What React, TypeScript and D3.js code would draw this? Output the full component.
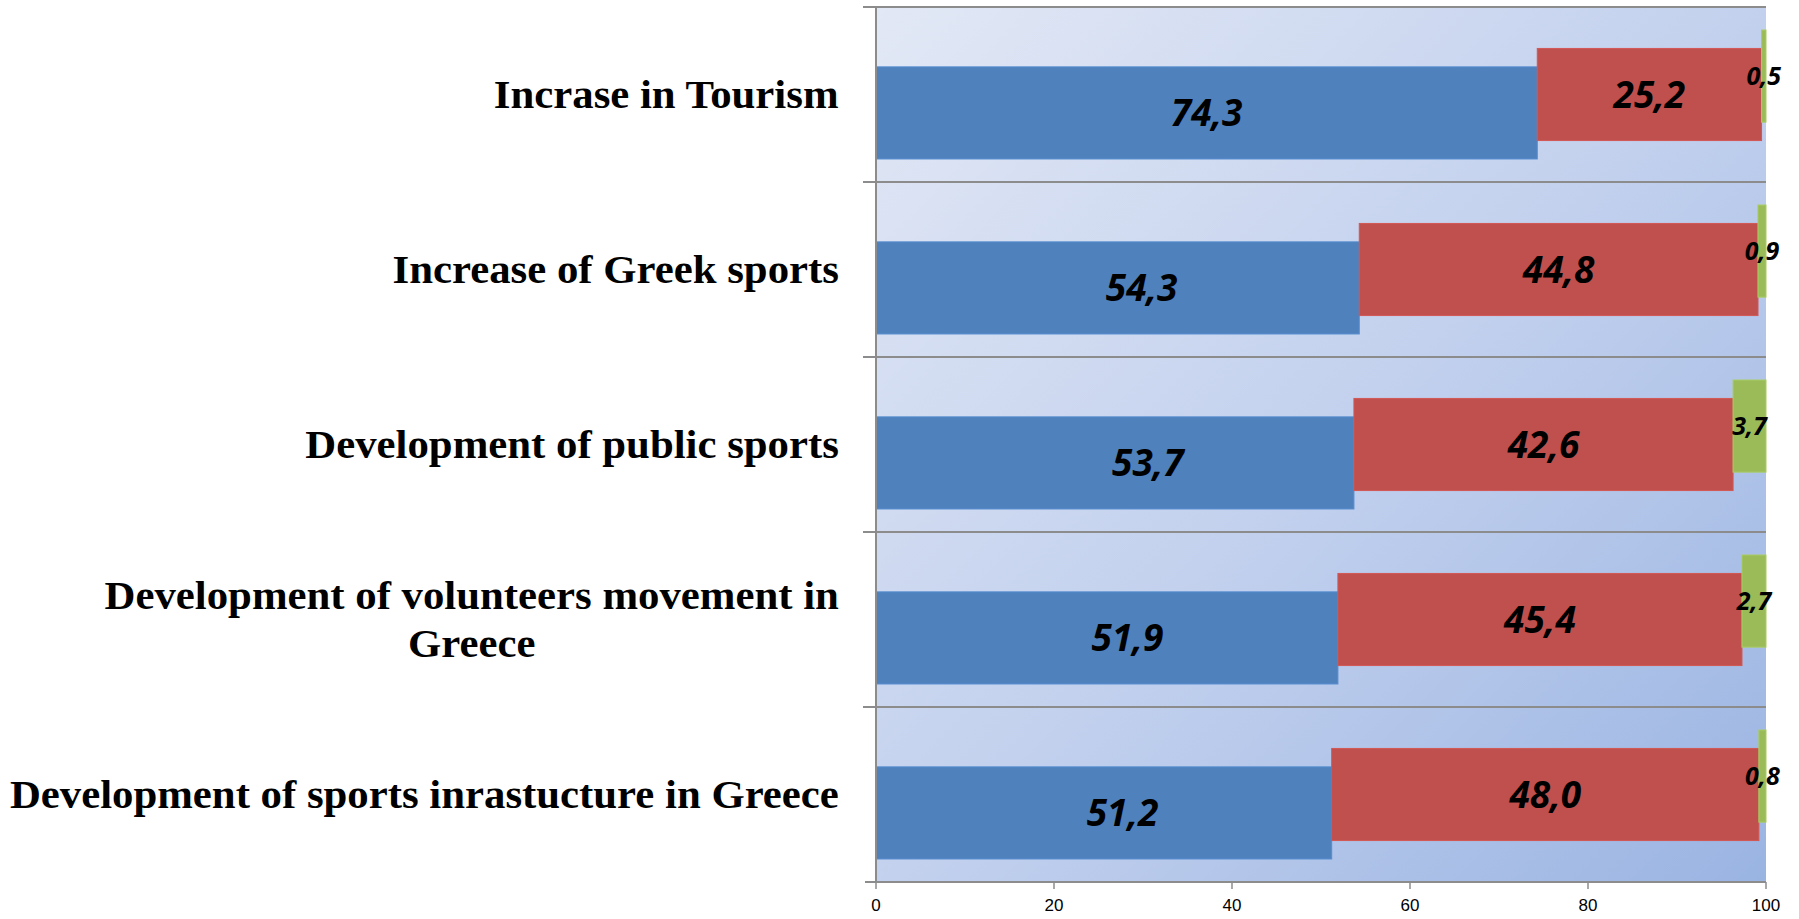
import React, { useMemo } from "react";
import * as d3 from "d3";

const categories = [
  "Incrase in Tourism",
  "Increase of Greek sports",
  "Development of public sports",
  "Development of volunteers movement in Greece",
  "Development of sports inrastucture in Greece",
];
const seriesBlue = [74.3, 54.3, 53.7, 51.9, 51.2];
const seriesRed = [25.2, 44.8, 42.6, 45.4, 48.0];
const seriesGreen = [0.5, 0.9, 3.7, 2.7, 0.8];
const xTicks = [0, 20, 40, 60, 80, 100];

// manual label nudges (in x-axis units) seen in the original for the first series
const blueLabelNudge = [0, 2.7, 3.7, 2.3, 2.1];

const seriesList = [
  { values: seriesBlue, color: "#4f81bd", fontSize: 37, nudge: blueLabelNudge },
  { values: seriesRed, color: "#c0504d", fontSize: 37, nudge: null },
  { values: seriesGreen, color: "#9bbb59", fontSize: 25, nudge: null },
];

const W = 1799;
const H = 919;
const plotLeft = 876;
const plotRight = 1766;
const plotTop = 7;
const plotBottom = 882;
const labelRight = 839;
const catFont = "bold 40px 'Liberation Serif'";
const catStretch = 1.07;
const gapRatio = 0.5;
const overlap = 0.8;

function measure(text: string): number {
  const canvas = document.createElement("canvas");
  const ctx = canvas.getContext("2d")!;
  ctx.font = catFont;
  return ctx.measureText(text).width * catStretch;
}

function wrapLines(text: string, maxW: number): string[] {
  const words = text.split(" ");
  const lines: string[] = [];
  let cur = "";
  for (const w of words) {
    const t = cur ? cur + " " + w : w;
    if (measure(t) > maxW && cur) {
      lines.push(cur);
      cur = w;
    } else cur = t;
  }
  if (cur) lines.push(cur);
  return lines;
}

const fmt = (v: number) => v.toFixed(1).replace(".", ",");

export default function App() {
  const x = d3.scaleLinear().domain([0, 100]).range([plotLeft, plotRight]);
  const y = d3
    .scaleBand<string>()
    .domain(categories)
    .range([plotTop, plotBottom])
    .paddingInner(0)
    .paddingOuter(0);
  const bw = y.bandwidth();
  const n = seriesList.length;
  const barH = bw / (gapRatio + 1 + (n - 1) * (1 - overlap));
  const step = barH * (1 - overlap);
  const start = (gapRatio * barH) / 2;

  const wrapped = useMemo(
    () => categories.map((c) => wrapLines(c, 835)),
    []
  );

  const barY = (cat: string, si: number) =>
    (y(cat) as number) + start + (n - 1 - si) * step;

  const gridYs = categories.map((c) => y(c) as number);

  return (
    <svg
      width={W}
      height={H}
      style={{ position: "fixed", left: 0, top: 0, display: "block", background: "#fff" }}
    >
      <defs>
        <linearGradient
          id="bg"
          gradientUnits="userSpaceOnUse"
          x1={plotLeft}
          y1={plotTop}
          x2={plotRight}
          y2={plotBottom}
        >
          <stop offset="0" stopColor="#e2e8f5" />
          <stop offset="0.5" stopColor="#c3d1ee" />
          <stop offset="1" stopColor="#9ab4e2" />
        </linearGradient>
      </defs>
      <rect
        x={plotLeft}
        y={plotTop}
        width={plotRight - plotLeft}
        height={plotBottom - plotTop}
        fill="url(#bg)"
      />
      {gridYs.map((gy, i) => (
        <line
          key={"g" + i}
          x1={plotLeft - 13}
          x2={plotRight}
          y1={gy}
          y2={gy}
          stroke="#8c8c8c"
          strokeWidth={2}
        />
      ))}
      {seriesList.map((s, si) =>
        categories.map((c, ci) => {
          const base = seriesList
            .slice(0, si)
            .reduce((acc, p) => acc + p.values[ci], 0);
          const x0 = x(base);
          const x1 = x(base + s.values[ci]);
          return (
            <rect
              key={`b${si}-${ci}`}
              x={x0}
              y={barY(c, si)}
              width={x1 - x0}
              height={barH}
              fill={s.color}
              stroke={d3.color(s.color)!.brighter(0.25).toString()}
              strokeWidth={1}
            />
          );
        })
      )}
      <line
        x1={plotLeft}
        x2={plotLeft}
        y1={plotTop}
        y2={plotBottom}
        stroke="#8c8c8c"
        strokeWidth={2}
      />
      <line
        x1={plotLeft - 11}
        x2={plotRight}
        y1={plotBottom}
        y2={plotBottom}
        stroke="#8c8c8c"
        strokeWidth={2}
      />
      {xTicks.map((t) => (
        <g key={"t" + t}>
          <line
            x1={x(t)}
            x2={x(t)}
            y1={plotBottom}
            y2={plotBottom + 7}
            stroke="#8c8c8c"
            strokeWidth={1.5}
          />
          <text
            x={x(t)}
            y={911}
            textAnchor="middle"
            fontFamily="'Liberation Sans', Arial, sans-serif"
            fontSize={17}
            fill="#000"
          >
            {t}
          </text>
        </g>
      ))}
      {seriesList.map((s, si) =>
        categories.map((c, ci) => {
          const base = seriesList
            .slice(0, si)
            .reduce((acc, p) => acc + p.values[ci], 0);
          const nudge = s.nudge ? s.nudge[ci] : 0;
          const cx = x(base + s.values[ci] / 2 + nudge);
          const cy = barY(c, si) + barH / 2;
          return (
            <text
              key={`l${si}-${ci}`}
              x={cx}
              y={cy + s.fontSize * 0.36}
              textAnchor="middle"
              fontFamily="'Open Sans', 'Liberation Sans', sans-serif"
              fontWeight="bold"
              fontStyle="italic"
              fontSize={s.fontSize}
              fill="#000"
            >
              {fmt(s.values[ci])}
            </text>
          );
        })
      )}
      {categories.map((c, ci) => {
        const lines = wrapped[ci];
        const cy = (y(c) as number) + bw / 2;
        const lh = 48;
        const maxW = Math.max(...lines.map(measure));
        const cx = labelRight - maxW / 2;
        return (
          <g key={"c" + ci} transform={`translate(${cx},${cy}) scale(${catStretch},1)`}>
            <text
              textAnchor="middle"
              fontFamily="'Liberation Serif', 'Times New Roman', serif"
              fontWeight="bold"
              fontSize={40}
              fill="#000"
            >
              {lines.map((ln, li) => (
                <tspan
                  key={li}
                  x={0}
                  y={13.5 + (li - (lines.length - 1) / 2) * lh}
                >
                  {ln}
                </tspan>
              ))}
            </text>
          </g>
        );
      })}
    </svg>
  );
}
